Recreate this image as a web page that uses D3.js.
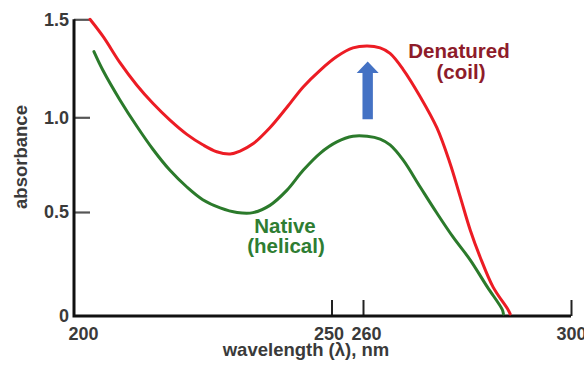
<!DOCTYPE html>
<html>
<head>
<meta charset="utf-8">
<script src="https://cdn.jsdelivr.net/npm/d3@7"></script>
<style>
  html, body { margin: 0; padding: 0; background: #fff; }
  svg { display: block; }
  text { font-family: "Liberation Sans", Arial, Helvetica, sans-serif; font-weight: bold; }
</style>
</head>
<body>
<svg id="chart" width="584" height="368"></svg>
<script>
// ---- data ----
const denaturedWl  = [201.4, 204.1, 207.4, 210.8, 214.1, 217.5, 220.9, 224.1, 226.9, 229.6, 231.6, 234.2, 237.6, 241.0, 244.3, 247.7, 251.7, 256.8, 260.8, 263.3, 265.2, 267.7, 271.0, 274.2, 276.7, 278.7, 280.6, 282.5, 285.0, 287.9, 288.3];
const denaturedAbs = [1.50, 1.41, 1.28, 1.165, 1.07, 0.985, 0.91, 0.855, 0.818, 0.806, 0.822, 0.86, 0.945, 1.05, 1.155, 1.24, 1.31, 1.354, 1.364, 1.354, 1.326, 1.245, 1.105, 0.945, 0.76, 0.58, 0.415, 0.285, 0.14, 0.03, 0.01];
const nativeWl  = [202.2, 204.0, 207.4, 210.9, 214.1, 217.5, 220.9, 224.1, 227.6, 231.0, 234.2, 237.6, 241.0, 244.3, 247.7, 251.7, 256.8, 260.8, 263.3, 265.2, 267.7, 271.0, 274.2, 277.3, 280.6, 283.9, 286.8, 287.0];
const nativeAbs = [1.335, 1.24, 1.09, 0.95, 0.83, 0.72, 0.632, 0.565, 0.522, 0.498, 0.497, 0.535, 0.614, 0.72, 0.81, 0.87, 0.90, 0.90, 0.885, 0.854, 0.775, 0.632, 0.495, 0.38, 0.27, 0.14, 0.03, 0.01];
const xTickValues = [200, 250, 260, 300];
const xTickLabels = ["200", "250", "260", "300"];
const yTickValues = [0, 0.5, 1.0, 1.5];
const yTickLabels = ["0", "0.5", "1.0", "1.5"];
const seriesNames = ["Denatured", "Native"];
const seriesSubNames = ["(coil)", "(helical)"];
const arrowWl = [260.9, 260.9];
const arrowAbs = [0.99, 1.285];

// ---- scales (the original figure is schematic, so piecewise-linear) ----
const x = d3.scaleLinear().domain([200, 250, 260, 300]).range([83, 331.5, 363, 571]);
const y = d3.scaleLinear().domain([0, 0.5, 1.0, 1.5]).range([316, 212, 117.3, 19.3]);
const plotLeft = 74;

const svg = d3.select("#chart");

// ---- axes ----
const yAxis = d3.axisLeft(y).tickValues(yTickValues)
  .tickFormat((d, i) => yTickLabels[i]).tickSize(-16).tickPadding(5);
const gy = svg.append("g").attr("transform", `translate(${plotLeft},0)`).call(yAxis);
gy.select(".domain").remove();
gy.selectAll(".tick line").attr("stroke", "#555").attr("stroke-width", 2.2)
  .filter(d => d === 0).remove();
gy.selectAll(".tick text").attr("fill", "#3a3a3a").style("font-size", "18px")
  .attr("font-family", null).attr("font-size", null);

const xAxis = d3.axisBottom(x).tickValues(xTickValues)
  .tickFormat((d, i) => xTickLabels[i]).tickSize(-16).tickPadding(11);
const gx = svg.append("g").attr("transform", `translate(0,${y(0)})`).call(xAxis);
gx.select(".domain").remove();
gx.selectAll(".tick line").attr("stroke", "#222").attr("stroke-width", 2)
  .filter(d => d === 200).remove();
const labelShift = { 250: -3, 260: 3 };
gx.selectAll(".tick text").attr("fill", "#3a3a3a").style("font-size", "18px")
  .attr("font-family", null).attr("font-size", null)
  .attr("dx", d => labelShift[d] || 0);

// axis frame
svg.append("path")
  .attr("d", `M${plotLeft},${y(1.5)}V${y(0)}H${x(300)}`)
  .attr("fill", "none").attr("stroke", "#111").attr("stroke-width", 3);

// axis titles
svg.append("text")
  .attr("x", 306).attr("y", 356)
  .attr("text-anchor", "middle").attr("fill", "#3a3a3a").style("font-size", "18.5px")
  .text("wavelength (λ), nm");
svg.append("text")
  .attr("transform", `translate(27,157) rotate(-90)`)
  .attr("text-anchor", "middle").attr("fill", "#3a3a3a").style("font-size", "18.5px")
  .text("absorbance");

// ---- curves ----
const line = d3.line().x(d => x(d[0])).y(d => y(d[1])).curve(d3.curveCatmullRom.alpha(0.5));
const denatured = denaturedWl.map((w, i) => [w, denaturedAbs[i]]);
const native = nativeWl.map((w, i) => [w, nativeAbs[i]]);

svg.append("path").datum(native).attr("d", line)
  .attr("fill", "none").attr("stroke", "#2b7a2b").attr("stroke-width", 3)
  .attr("stroke-linejoin", "round").attr("stroke-linecap", "round");
svg.append("path").datum(denatured).attr("d", line)
  .attr("fill", "none").attr("stroke", "#ec1c24").attr("stroke-width", 3)
  .attr("stroke-linejoin", "round").attr("stroke-linecap", "round");

// ---- arrow ----
const ax = x(arrowWl[0]);
const ayBottom = y(arrowAbs[0]);
const ayTop = y(arrowAbs[1]);
const shaftHalf = 5.2, headHalf = 11, headLen = 11.5;
svg.append("path")
  .attr("d", `M${ax - shaftHalf},${ayBottom}V${ayTop + headLen}H${ax - headHalf}L${ax},${ayTop}L${ax + headHalf},${ayTop + headLen}H${ax + shaftHalf}V${ayBottom}Z`)
  .attr("fill", "#4472c4");

// ---- series labels ----
svg.append("text").attr("x", 459).attr("y", 58).attr("text-anchor", "middle")
  .attr("fill", "#8e1c2a").style("font-size", "20.5px").text(seriesNames[0]);
svg.append("text").attr("x", 461).attr("y", 79).attr("text-anchor", "middle")
  .attr("fill", "#8e1c2a").style("font-size", "20.5px").text(seriesSubNames[0]);
svg.append("text").attr("x", 285).attr("y", 233).attr("text-anchor", "middle")
  .attr("fill", "#2e7d32").style("font-size", "20.5px").text(seriesNames[1]);
svg.append("text").attr("x", 286).attr("y", 253).attr("text-anchor", "middle")
  .attr("fill", "#2e7d32").style("font-size", "20.5px").text(seriesSubNames[1]);
</script>
</body>
</html>
